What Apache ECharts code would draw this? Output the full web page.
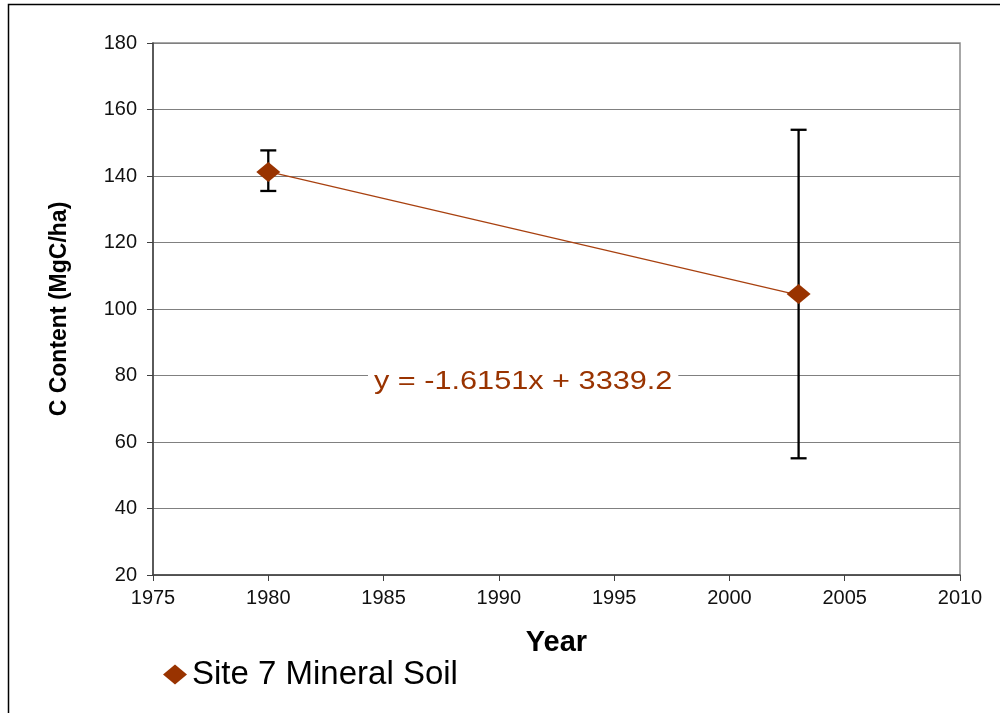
<!DOCTYPE html>
<html>
<head>
<meta charset="utf-8">
<script src="https://cdn.jsdelivr.net/npm/echarts@6/dist/echarts.min.js"></script>
<style>
  html, body { margin: 0; padding: 0; background: #fff; }
  #chart { width: 1000px; height: 713px; }
</style>
</head>
<body>
<div id="chart"></div>
<script>
// Site 7 mineral soil carbon content by sampling year
const years = [1980, 2003];
const carbon = [141.2, 104.5];
const errLow = [135.5, 55.1];
const errHigh = [147.7, 153.9];
const trendSlope = -1.6151;
const trendIntercept = 3339.2;
const yTicks = [20, 40, 60, 80, 100, 120, 140, 160, 180];
const xTicks = [1975, 1980, 1985, 1990, 1995, 2000, 2005, 2010];
const seriesName = 'Site 7 Mineral Soil';

const FONT = '"Liberation Sans", Arial, Helvetica, sans-serif';
const BROWN = '#993300';

const points = years.map((y, i) => [y, carbon[i]]);
const errData = years.map((y, i) => [y, errLow[i], errHigh[i]]);
const trend = [years[0], years[years.length - 1]].map(x => [x, trendSlope * x + trendIntercept]);
const equation = 'y = ' + trendSlope + 'x + ' + trendIntercept;

const chart = echarts.init(document.getElementById('chart'), null, { renderer: 'canvas' });

chart.setOption({
  animation: false,
  backgroundColor: '#fff',
  textStyle: { fontFamily: FONT },
  grid: {
    left: 153, right: 40, top: 43, bottom: 138,
    show: true, borderColor: '#8a8a8a', borderWidth: 1.5, backgroundColor: '#fff'
  },
  xAxis: {
    type: 'value',
    min: xTicks[0], max: xTicks[xTicks.length - 1], interval: 5,
    name: 'Year', nameLocation: 'middle', nameGap: 53,
    nameTextStyle: { fontSize: 29, fontWeight: 'bold', color: '#000', fontFamily: FONT },
    axisLine: { show: true, onZero: false, lineStyle: { color: '#404040', width: 1.5 } },
    axisTick: { show: true, length: 6, lineStyle: { color: '#404040', width: 1 } },
    axisLabel: { fontSize: 20, color: '#111', margin: 13, fontFamily: FONT, formatter: v => String(v) },
    splitLine: { show: false }
  },
  yAxis: {
    type: 'value',
    min: yTicks[0], max: yTicks[yTicks.length - 1], interval: 20,
    name: 'C Content (MgC/ha)', nameLocation: 'middle', nameGap: 82,
    nameTextStyle: { fontSize: 23, fontWeight: 'bold', color: '#000', fontFamily: FONT },
    axisLine: { show: true, lineStyle: { color: '#404040', width: 1.5 } },
    axisTick: { show: true, length: 6, lineStyle: { color: '#404040', width: 1 } },
    axisLabel: { fontSize: 20, color: '#111', margin: 16, fontFamily: FONT },
    splitLine: { show: true, lineStyle: { color: '#808080', width: 1.2 } }
  },
  legend: {
    left: 158, top: 653,
    icon: 'diamond', itemWidth: 24, itemHeight: 20, itemGap: 10,
    textStyle: { fontSize: 33, color: '#000', fontFamily: FONT },
    data: [seriesName]
  },
  graphic: [
    {
      type: 'rect', silent: true, z: 100,
      shape: { x: 8.5, y: 4.5, width: 1200, height: 1000 },
      style: { fill: 'none', stroke: '#000', lineWidth: 1.5 }
    },
    {
      type: 'text', z: 50, x: 368, y: 382, scaleX: 1.18, originX: 0,
      style: {
        text: equation, fill: BROWN, font: '26px ' + FONT,
        verticalAlign: 'middle', align: 'left',
        backgroundColor: '#fff', padding: [2, 5]
      }
    }
  ],
  series: [
    {
      name: 'trend', type: 'line', data: trend, symbol: 'none',
      lineStyle: { color: '#a8400f', width: 1.2 }, z: 2, silent: true
    },
    {
      name: 'error', type: 'custom', z: 3, silent: true,
      renderItem: function (params, api) {
        const x = api.value(0);
        const lo = api.coord([x, api.value(1)]);
        const hi = api.coord([x, api.value(2)]);
        const hw = 8;
        const st = { stroke: '#000', lineWidth: 2.3 };
        return {
          type: 'group',
          children: [
            { type: 'line', shape: { x1: lo[0], y1: lo[1], x2: hi[0], y2: hi[1] }, style: st },
            { type: 'line', shape: { x1: hi[0] - hw, y1: hi[1], x2: hi[0] + hw, y2: hi[1] }, style: st },
            { type: 'line', shape: { x1: lo[0] - hw, y1: lo[1], x2: lo[0] + hw, y2: lo[1] }, style: st }
          ]
        };
      },
      encode: { x: 0, y: [1, 2] },
      data: errData
    },
    {
      name: seriesName, type: 'scatter', data: points,
      symbol: 'diamond', symbolSize: [24, 20],
      itemStyle: { color: BROWN, opacity: 1 }, z: 5
    }
  ]
});
</script>
</body>
</html>
